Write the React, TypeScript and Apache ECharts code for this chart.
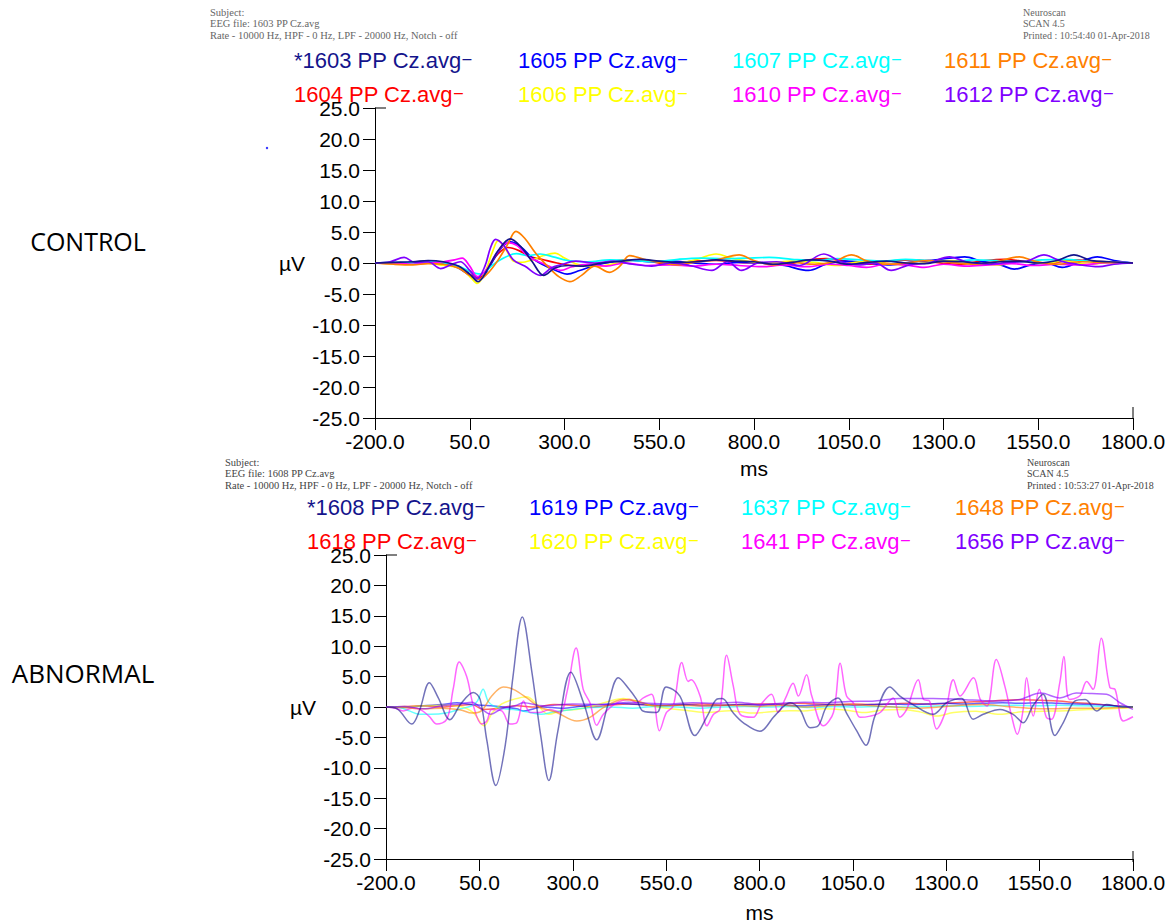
import React, { useEffect, useRef } from "react";
import * as echarts from "echarts";

// ---------- DATA (ms, µV) ----------
const X_MIN = -200;
const X_MAX = 1800;
const X_STEP = 250;
const Y_MIN = -25;
const Y_MAX = 25;
const Y_STEP = 5;

const controlNames = ["1603 PP Cz.avg", "1604 PP Cz.avg", "1605 PP Cz.avg", "1606 PP Cz.avg", "1607 PP Cz.avg", "1610 PP Cz.avg", "1611 PP Cz.avg", "1612 PP Cz.avg"];
const abnormalNames = ["1608 PP Cz.avg", "1618 PP Cz.avg", "1619 PP Cz.avg", "1620 PP Cz.avg", "1637 PP Cz.avg", "1641 PP Cz.avg", "1648 PP Cz.avg", "1656 PP Cz.avg"];
const seriesColors = ["#14148c", "#ff0000", "#0000ff", "#ffff00", "#00ffff", "#ff00ff", "#ff8000", "#8000ff"];

const ctl1603 = [[-200,0],[-150,0.1],[-100,0.2],[-60,0.4],[-20,0.2],[20,-0.5],[50,-1.8],[72,-3.0],[95,-1.2],[125,2.0],[157,3.9],[185,2.6],[215,0.2],[245,-2.0],[275,-0.8],[310,-0.4],[350,-0.5],[400,0.0],[450,0.3],[500,0.6],[550,0.3],[600,0.1],[650,0.2],[700,0.5],[750,0.3],[800,0.2],[850,-0.2],[900,0.1],[950,0.5],[1000,0.3],[1050,-0.2],[1100,0.1],[1150,0.3],[1200,0.0],[1250,-0.1],[1300,0.3],[1350,0.2],[1400,0.0],[1450,0.2],[1500,0.3],[1550,0.0],[1600,0.4],[1644,1.3],[1690,0.4],[1740,0.2],[1800,0]];
const ctl1604 = [[-200,0],[-150,-0.1],[-100,0.1],[-60,0.3],[-20,0.0],[20,-0.6],[55,-2.0],[75,-2.4],[100,-0.5],[125,1.5],[150,2.5],[180,2.0],[210,1.0],[240,0.6],[280,0.0],[320,-0.4],[370,-0.3],[420,0.2],[470,0.5],[520,0.3],[580,-0.2],[640,0.3],[700,0.4],[760,0.1],[820,0.0],[880,-0.3],[930,0.4],[990,0.7],[1050,0.2],[1100,-0.2],[1160,0.3],[1220,0.5],[1280,0.1],[1340,-0.2],[1400,0.3],[1460,0.6],[1520,0.2],[1580,-0.1],[1640,0.5],[1700,0.3],[1750,0.1],[1800,0]];
const ctl1605 = [[-200,0],[-150,0.0],[-100,0.1],[-60,0.2],[-20,0.0],[20,-0.8],[55,-2.2],[78,-2.6],[100,-0.8],[130,2.2],[157,3.4],[185,2.6],[215,0.8],[250,-0.5],[285,-1.4],[307,-1.8],[340,-1.2],[380,-0.4],[430,0.2],[480,0.4],[530,0.2],[580,0.3],[640,0.0],[700,-0.2],[760,0.1],[820,0.0],[880,-0.4],[944,-1.2],[990,-0.2],[1040,0.3],[1100,0.0],[1160,-0.3],[1220,0.2],[1280,0.5],[1356,1.0],[1400,0.3],[1450,-0.3],[1487,-1.0],[1530,-0.3],[1570,0.0],[1613,-0.7],[1660,0.2],[1706,1.0],[1750,0.4],[1800,0]];
const ctl1606 = [[-200,0],[-150,-0.1],[-100,0.0],[-60,0.2],[-30,-0.3],[0,-0.5],[30,-1.0],[55,-2.5],[70,-3.3],[90,-1.5],[110,1.8],[125,3.6],[145,2.2],[165,0.3],[185,0.1],[215,0.5],[245,1.2],[275,1.6],[300,0.8],[340,-0.3],[390,-0.5],[440,0.0],[490,0.5],[540,0.3],[600,0.0],[650,0.6],[700,1.45],[740,0.8],[790,0.2],[840,0.0],[900,0.3],[960,0.1],[1020,-0.4],[1080,0.2],[1140,0.0],[1200,-0.3],[1260,0.1],[1320,0.4],[1380,0.0],[1440,-0.3],[1500,0.2],[1560,0.0],[1620,0.3],[1680,-0.2],[1740,0.1],[1800,0]];
const ctl1607 = [[-200,0],[-150,0.1],[-100,0.0],[-60,0.2],[-20,0.0],[20,-0.5],[55,-1.5],[80,-1.8],[105,-0.6],[130,0.5],[173,1.5],[205,1.2],[236,1.45],[270,1.0],[310,0.4],[360,0.2],[420,0.5],[480,0.4],[540,0.2],[600,0.6],[660,0.8],[720,0.7],[780,0.8],[840,0.9],[900,0.6],[960,0.4],[1020,0.7],[1080,0.5],[1140,0.3],[1200,0.6],[1260,0.4],[1320,0.2],[1380,0.5],[1440,0.4],[1500,0.2],[1560,0.5],[1620,0.6],[1680,0.3],[1740,0.2],[1800,0]];
const ctl1610 = [[-200,0],[-150,0.0],[-100,-0.2],[-60,0.0],[-20,0.2],[10,0.5],[30,0.8],[50,-0.5],[70,-2.2],[95,-1.0],[120,1.5],[150,3.3],[175,2.8],[205,1.0],[240,0.0],[270,-0.8],[290,-1.2],[320,-0.6],[360,-0.2],[410,-0.5],[460,0.0],[520,-0.4],[580,-0.3],[640,-0.5],[700,-0.2],[760,-0.4],[820,-0.6],[880,-0.3],[940,-0.6],[1000,-0.2],[1050,-0.4],[1097,-0.7],[1150,-0.2],[1200,-0.3],[1249,-0.7],[1300,-0.2],[1360,-0.5],[1420,-0.3],[1480,-0.1],[1540,-0.4],[1600,-0.2],[1660,-0.3],[1720,0.0],[1760,0.1],[1800,0]];
const ctl1611 = [[-200,0],[-150,-0.2],[-100,-0.3],[-60,-0.1],[-20,-0.2],[20,-0.8],[50,-2.0],[75,-2.6],[100,-1.5],[125,0.5],[150,3.0],[172,5.1],[195,4.0],[225,1.5],[255,-0.5],[285,-2.2],[314,-3.0],[345,-2.0],[380,-0.5],[419,-1.5],[445,-0.6],[472,1.2],[510,0.6],[550,0.1],[600,-0.3],[650,0.2],[700,0.5],[761,1.3],[800,0.4],[850,-0.3],[900,0.1],[960,-0.2],[1010,0.2],[1057,1.3],[1100,0.3],[1150,-0.2],[1200,0.0],[1260,0.4],[1320,0.1],[1380,-0.2],[1440,0.2],[1500,1.0],[1540,0.3],[1600,-0.2],[1660,0.2],[1720,0.1],[1800,0]];
const ctl1612 = [[-200,0],[-160,0.2],[-123,0.9],[-95,0.1],[-60,0.2],[-27,-0.9],[0,-0.3],[25,0.2],[50,-1.2],[70,-2.5],[90,-0.5],[105,2.5],[118,3.8],[140,2.8],[165,0.5],[195,-0.5],[236,-2.0],[265,-0.8],[290,-0.3],[330,0.3],[380,0.0],[430,0.3],[480,-0.2],[530,-0.5],[580,0.0],[630,-0.4],[689,-1.2],[730,0.2],[767,-1.2],[810,0.0],[860,0.2],[920,-0.4],[984,1.45],[1030,0.2],[1080,-0.3],[1120,0.0],[1162,-1.2],[1210,-0.3],[1260,0.0],[1316,1.0],[1360,0.2],[1420,-0.2],[1470,0.1],[1520,0.3],[1565,1.3],[1610,0.3],[1660,-0.3],[1710,-0.6],[1750,-0.2],[1800,0]];

const abn1608 = [[-200,0],[-170,-0.3],[-131,-2.8],[-110,-0.5],[-84,4.0],[-60,1.5],[-29,-2.1],[0,0.5],[34,2.4],[52,1.25],[70,-5.5],[94,-12.9],[120,-6],[140,5],[165,14.8],[190,6],[215,-5],[236,-12.1],[260,-4],[295,5.7],[330,0.5],[364,-5.4],[395,0.5],[422,4.8],[450,3.0],[471,1.25],[488,-0.65],[525,-0.9],[550,3.3],[587,1.8],[627,-4.7],[660,-1.5],[685,1.25],[700,1.4],[730,-1.0],[757,-2.6],[801,-4.0],[840,-1.5],[882,0.7],[908,-0.4],[935,-3.4],[957,-3.1],[980,0.1],[1010,1.5],[1033,-1.0],[1060,-3.9],[1085,-6.3],[1109,-1.5],[1149,3.3],[1176,1.8],[1211,0.4],[1265,-1.2],[1301,0.7],[1341,1.4],[1372,-2.0],[1399,-1.2],[1444,-0.4],[1479,-1.2],[1506,-2.6],[1532,0.2],[1559,2.1],[1591,-4.7],[1613,-2.6],[1645,1.0],[1672,1.25],[1703,-0.65],[1729,0.4],[1765,0.05],[1800,0]];
const abn1618 = [[-200,0],[-150,0.1],[-100,0.2],[-50,0.0],[0,0.3],[30,0.4],[60,-0.4],[100,-0.2],[150,0.2],[200,0.0],[250,0.4],[300,0.3],[350,0.0],[400,0.3],[450,0.5],[500,0.3],[550,0.2],[600,0.4],[650,0.5],[700,0.3],[750,0.4],[800,0.5],[850,0.5],[900,0.6],[950,0.5],[1000,0.4],[1050,0.5],[1100,0.4],[1150,0.5],[1200,0.6],[1250,0.5],[1300,0.6],[1350,0.8],[1400,0.9],[1450,1.1],[1500,1.2],[1550,1.1],[1600,1.0],[1650,0.7],[1700,0.5],[1750,0.2],[1800,0]];
const abn1619 = [[-200,0],[-150,-0.1],[-100,0.2],[-50,0.4],[-10,0.7],[30,0.4],[80,0.2],[150,-0.3],[168,-0.65],[220,0.0],[270,-0.2],[330,0.2],[400,0.5],[420,0.6],[480,0.4],[550,0.3],[600,0.4],[650,0.2],[700,0.3],[750,0.4],[800,0.3],[850,0.4],[900,0.2],[950,0.3],[1000,0.4],[1050,0.3],[1100,0.4],[1150,0.5],[1200,0.4],[1250,0.5],[1300,0.6],[1350,0.5],[1400,0.6],[1450,0.7],[1500,0.6],[1550,0.7],[1600,0.6],[1650,0.5],[1700,0.4],[1750,0.2],[1800,0]];
const abn1620 = [[-200,0],[-150,0.0],[-100,0.2],[-50,0.3],[0,0.1],[35,-1.0],[62,-3.1],[85,-0.9],[110,0.5],[141,1.25],[177,1.7],[200,0.7],[235,-1.2],[270,-0.6],[310,-0.4],[360,0.3],[400,1.0],[435,1.4],[470,1.0],[510,0.2],[560,-0.3],[610,-0.6],[659,-0.9],[720,-0.6],[780,-1.0],[830,-0.8],[880,-0.6],[917,-0.65],[970,-0.3],[1030,-0.5],[1080,-0.9],[1130,-0.5],[1180,-0.4],[1230,-0.8],[1274,-1.5],[1320,-0.9],[1380,-0.7],[1444,-1.2],[1500,-0.8],[1560,-0.7],[1620,-0.6],[1680,-0.4],[1740,-0.3],[1800,-0.1]];
const abn1637 = [[-200,0],[-170,0.0],[-140,-0.6],[-110,-1.2],[-80,-1.2],[-40,-1.0],[0,-0.3],[30,0.2],[45,1.0],[60,2.9],[75,0.8],[100,-0.1],[150,-0.5],[186,-0.9],[215,-1.2],[250,-0.8],[300,-0.4],[350,-0.1],[400,0.0],[460,-0.2],[520,0.1],[580,0.0],[640,-0.2],[700,0.0],[760,0.1],[820,0.0],[880,0.1],[940,-0.1],[1000,0.1],[1060,0.0],[1120,0.1],[1180,0.0],[1240,0.1],[1300,0.2],[1360,0.1],[1420,0.2],[1480,0.3],[1540,0.2],[1600,0.3],[1660,0.2],[1720,0.1],[1800,0]];
const abn1641 = [[-200,0],[-175,-0.2],[-154,-0.65],[-130,-0.2],[-109,-0.4],[-85,-1.5],[-64,-2.8],[-37,-2.0],[-20,3],[-4,7.4],[16,5.0],[34,0.2],[56,-2.8],[70,-2.3],[83,-0.4],[110,-0.65],[132,-2.8],[150,-2.6],[168,1.0],[186,-0.9],[212,-0.9],[239,-0.4],[266,-0.9],[284,2.3],[309,9.7],[328,2.9],[346,0.7],[364,-3.0],[382,-1.2],[418,0.7],[453,1.25],[470,0.7],[489,1.5],[511,2.1],[532,-3.9],[551,-0.9],[569,0.15],[592,7.3],[609,4.2],[617,4.5],[641,1.8],[659,-3.1],[677,-1.2],[694,-0.4],[712,8.5],[730,3.4],[748,-1.2],[783,-1.7],[805,0.5],[832,2.1],[850,-0.9],[870,1.5],[890,3.9],[904,1.8],[926,5.3],[940,1.8],[971,-3.1],[998,-0.9],[1016,7.2],[1033,1.8],[1051,0.7],[1069,-1.7],[1096,-1.5],[1123,-0.9],[1158,1.5],[1176,-1.7],[1194,-0.4],[1225,4.5],[1239,1.25],[1255,1.0],[1274,-3.6],[1297,-0.9],[1319,4.5],[1337,1.8],[1373,4.8],[1391,1.25],[1409,0.15],[1434,7.8],[1457,3.4],[1475,-1.5],[1490,-4.5],[1506,-0.4],[1515,4.8],[1533,-1.5],[1549,2.9],[1568,-1.7],[1582,-2.0],[1604,4.0],[1615,8.3],[1630,1.25],[1657,1.8],[1676,4.2],[1693,2.9],[1715,11.3],[1738,3.2],[1752,2.9],[1774,-2.3],[1800,-1.6]];
const abn1648 = [[-200,0],[-150,-0.1],[-100,-0.3],[-50,-0.2],[0,-0.5],[30,-1.0],[56,-0.6],[83,1.8],[114,3.3],[141,2.9],[177,1.5],[210,0.0],[257,-0.9],[311,-2.3],[346,-1.7],[382,-0.1],[435,1.25],[471,1.0],[520,0.2],[580,0.3],[650,0.2],[720,0.3],[800,0.1],[860,0.3],[920,0.0],[980,0.2],[1040,0.4],[1100,0.2],[1160,0.0],[1220,-0.2],[1280,0.0],[1340,0.3],[1400,0.4],[1460,0.1],[1520,-0.2],[1580,-0.3],[1640,-0.2],[1700,-0.2],[1760,-0.1],[1800,0]];
const abn1656 = [[-200,0],[-150,0.1],[-100,-0.3],[-50,0.2],[0,0.5],[30,0.8],[60,-0.5],[80,-1.2],[110,-0.3],[150,0.3],[168,0.7],[220,0.2],[300,0.5],[400,0.4],[450,0.8],[500,0.6],[560,0.5],[620,0.7],[680,0.6],[740,0.8],[800,0.4],[860,0.6],[920,0.8],[980,0.7],[1040,0.9],[1109,1.0],[1176,1.4],[1265,1.4],[1337,1.25],[1426,1.0],[1497,1.25],[1553,2.3],[1604,1.5],[1648,2.3],[1690,2.2],[1729,2.1],[1765,0.7],[1800,-0.4]];

const controlData = [ctl1603, ctl1604, ctl1605, ctl1606, ctl1607, ctl1610, ctl1611, ctl1612];
const abnormalData = [abn1608, abn1618, abn1619, abn1620, abn1637, abn1641, abn1648, abn1656];

// header texts
const ctlHeaderLeft = ["Subject:", "EEG file: 1603 PP Cz.avg", "Rate - 10000 Hz, HPF - 0 Hz, LPF - 20000 Hz, Notch - off"];
const ctlHeaderRight = ["Neuroscan", "SCAN 4.5", "Printed : 10:54:40 01-Apr-2018"];
const abnHeaderLeft = ["Subject:", "EEG file: 1608 PP Cz.avg", "Rate - 10000 Hz, HPF - 0 Hz, LPF - 20000 Hz, Notch - off"];
const abnHeaderRight = ["Neuroscan", "SCAN 4.5", "Printed : 10:53:27 01-Apr-2018"];

// ---------- LAYOUT ----------
const SANS = "'Liberation Sans', Arial, sans-serif";
const SERIF = "'Liberation Serif', 'Times New Roman', serif";
const panels = [
  {
    grid: { left: 375, top: 108, width: 758, height: 310 }, nameGap: 40,
    names: controlNames, data: controlData, opacity: 1, width: 1.7,
    legendCols: [294, 518, 732, 944], legendRows: [62, 96],
    label: "CONTROL", labelSize: 25, labelPos: [88, 241],
    headLeft: ctlHeaderLeft, headLeftPos: [210, 12], headRight: ctlHeaderRight, headRightPos: [1023, 12], headColor: "#666",
  },
  {
    grid: { left: 386, top: 555, width: 747, height: 307 }, nameGap: 43,
    names: abnormalNames, data: abnormalData, opacity: 0.6, width: 1.5,
    legendCols: [307, 529, 741, 955], legendRows: [509, 543],
    label: "ABNORMAL", labelSize: 26, labelPos: [83, 673],
    headLeft: abnHeaderLeft, headLeftPos: [225, 462], headRight: abnHeaderRight, headRightPos: [1027, 462], headColor: "#444",
  },
];

export default function App() {
  const ref = useRef<HTMLDivElement>(null);
  useEffect(() => {
    if (!ref.current) return;
    const chart = echarts.init(ref.current, null, { renderer: "svg" });
    const grids: any[] = [];
    const xAxes: any[] = [];
    const yAxes: any[] = [];
    const series: any[] = [];
    const graphic: any[] = [];

    panels.forEach((p, gi) => {
      grids.push({ ...p.grid, containLabel: false });
      xAxes.push({
        type: "value", gridIndex: gi, min: 0, max: X_MAX - X_MIN, interval: X_STEP,
        axisLine: { show: true, onZero: false, lineStyle: { color: "#000", width: 1 } },
        axisTick: { show: true, length: 12, lineStyle: { color: "#000", width: 1 } },
        axisLabel: { formatter: (v: number) => (v + X_MIN).toFixed(1), fontSize: 21, fontFamily: SANS, color: "#000", margin: 13 },
        splitLine: { show: false },
        name: "ms", nameLocation: "middle", nameGap: p.nameGap,
        nameTextStyle: { fontSize: 21, fontFamily: SANS, color: "#000" },
      });
      yAxes.push({
        type: "value", gridIndex: gi, min: Y_MIN, max: Y_MAX, interval: Y_STEP,
        axisLine: { show: true, onZero: false, lineStyle: { color: "#000", width: 1 } },
        axisTick: { show: true, length: 12, lineStyle: { color: "#000", width: 1 } },
        axisLabel: { formatter: (v: number) => v.toFixed(1), fontSize: 21, fontFamily: SANS, color: "#000", margin: 15 },
        splitLine: { show: false },
        name: "µV", nameLocation: "middle", nameRotate: 0, nameGap: 70,
        nameTextStyle: { fontSize: 21, fontFamily: SANS, color: "#000" },
      });
      // draw non-star series first, starred one (index 0) last
      const order = [1, 2, 3, 4, 5, 6, 7, 0];
      order.forEach((si) => {
        series.push({
          type: "line", name: p.names[si], xAxisIndex: gi, yAxisIndex: gi,
          data: p.data[si].map(([ms, v]) => [ms - X_MIN, v]),
          showSymbol: false, smooth: 0.35,
          lineStyle: { color: seriesColors[si], width: p.width, opacity: p.opacity },
          itemStyle: { color: seriesColors[si] },
          z: 2,
        });
      });
      // legend texts (column-major)
      p.names.forEach((name, si) => {
        const col = Math.floor(si / 2);
        const row = si % 2;
        graphic.push({
          type: "text", left: p.legendCols[col], top: p.legendRows[row] - 13,
          style: {
            text: `{t|${si === 0 ? "*" : ""}${name}}{d|–}`,
            rich: {
              t: { fontSize: 22, fontFamily: SANS, fill: seriesColors[si] },
              d: { fontSize: 16, fontFamily: SANS, fill: seriesColors[si], padding: [0, 0, 4, 1] },
            },
          },
        });
      });
      // side label
      graphic.push({
        type: "text", x: p.labelPos[0], y: p.labelPos[1],
        style: { text: p.label, fontSize: p.labelSize, fontFamily: "'Open Sans', sans-serif", fill: "#000", textAlign: "center", textVerticalAlign: "middle" },
      });
      // header texts
      p.headLeft.forEach((t, i) => graphic.push({
        type: "text", x: p.headLeftPos[0], y: p.headLeftPos[1] + i * 11.5,
        style: { text: t, fontSize: 10.5, fontFamily: SERIF, fill: p.headColor, textVerticalAlign: "middle" },
      }));
      p.headRight.forEach((t, i) => graphic.push({
        type: "text", x: p.headRightPos[0], y: p.headRightPos[1] + i * 11.5,
        style: { text: t, fontSize: 10, fontFamily: SERIF, fill: p.headColor, textVerticalAlign: "middle" },
      }));
      // axis end caps (inside ticks at top of y axis and right end of x axis)
      const g = p.grid;
      graphic.push({ type: "line", shape: { x1: g.left, y1: g.top, x2: g.left + 11, y2: g.top }, style: { stroke: "#000", lineWidth: 1 } });
      graphic.push({ type: "line", shape: { x1: g.left + g.width, y1: g.top + g.height, x2: g.left + g.width, y2: g.top + g.height - 11 }, style: { stroke: "#000", lineWidth: 1 } });
    });

    // stray marker dot in the control panel
    graphic.push({ type: "circle", shape: { cx: 267, cy: 148, r: 1.2 }, style: { fill: "#3030ff" } });

    chart.setOption({
      animation: false,
      backgroundColor: "#fff",
      grid: grids,
      xAxis: xAxes,
      yAxis: yAxes,
      series,
      graphic,
    });
    return () => chart.dispose();
  }, []);
  return <div ref={ref} style={{ position: "absolute", left: 0, top: 0, width: 1172, height: 924, background: "#fff" }} />;
}
